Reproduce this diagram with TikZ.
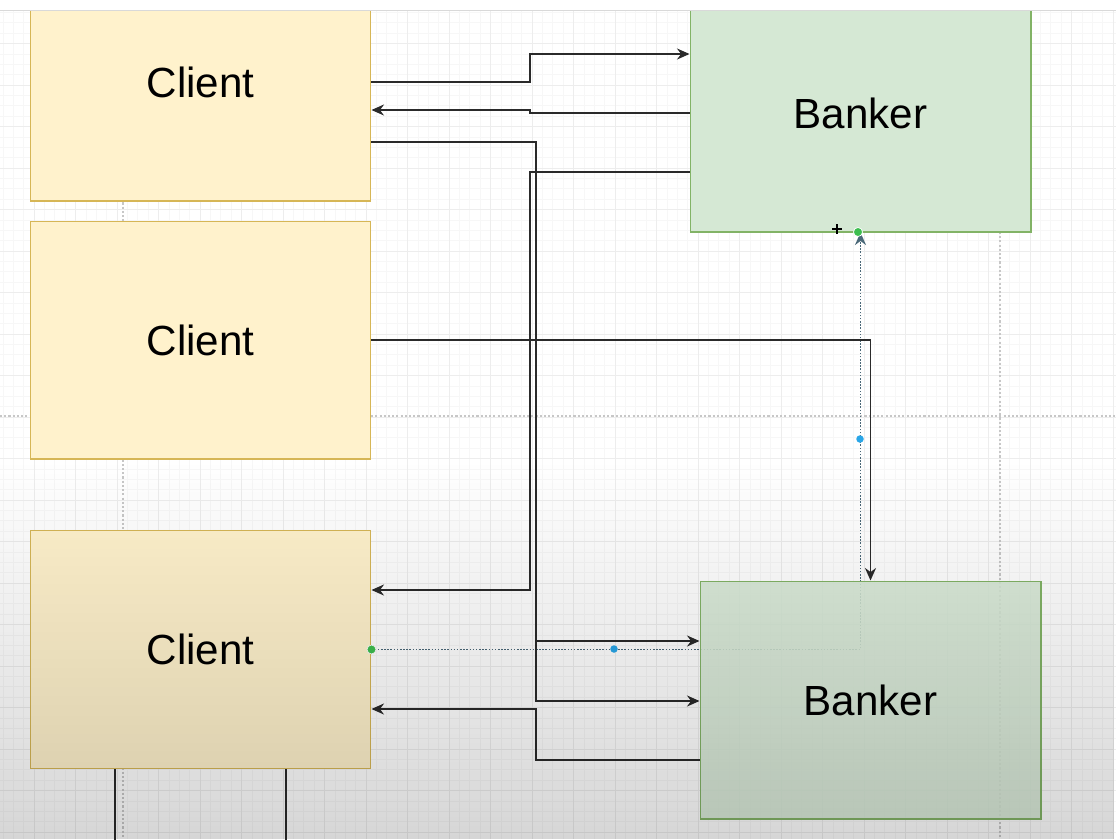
\documentclass[tikz,border=0pt]{standalone}
\usepackage{fontspec}
\setmainfont{Liberation Sans}
\usetikzlibrary{arrows.meta, positioning, fadings}
\definecolor{clientfill}{HTML}{FFF2CC}
\definecolor{clientline}{HTML}{D6B656}
\definecolor{bankfill}{HTML}{D5E8D4}
\definecolor{bankline}{HTML}{82B366}
\definecolor{wirecol}{HTML}{2A2A2A}
\definecolor{previewcol}{HTML}{4A6878}
\definecolor{handlegreen}{HTML}{3DBE4F}
\definecolor{handleblue}{HTML}{29A6E8}
\pgfdeclarelayer{bg}
\pgfsetlayers{bg,main}
\tikzfading[name=fadedown, top color=transparent!100, bottom color=transparent!0]

\begin{document}
\begin{tikzpicture}[
    x=0.02cm, y=-0.02cm, >={Stealth[length=2.5mm, width=2.2mm]},
    box/.style={rectangle, draw, line width=0.6pt, minimum width=6.82cm, minimum height=4.76cm, inner sep=0pt, font=\fontsize{24}{28}\selectfont},
    client/.style={box, fill=clientfill, draw=clientline},
    banker/.style={box, fill=bankfill, draw=bankline},
    wire/.style={->, draw=wirecol, line width=1pt},
    preview/.style={->, draw=previewcol, line width=1pt, dash pattern=on 0.9pt off 0.9pt},
    gridminor/.style={draw=black!3, line width=0.3pt},
    gridmajor/.style={draw=black!7, line width=0.4pt},
    pagebreak/.style={draw=black!22, line width=0.6pt, dash pattern=on 1.2pt off 1.2pt}
]
\useasboundingbox (0,0) rectangle (1116,839);
\clip (0,0) rectangle (1116,839);

\node[client] (client1) at (200.5,82) {Client};
\node[client] (client2) at (200.5,340) {Client};
\node[client] (client3) at (200.5,649.5) {Client};
\node[banker] (banker1) at (860.5,113) {Banker};
\node[banker, fill opacity=0.88, text opacity=1] (banker2) at (870.5,700) {Banker};

\coordinate (down1) at (115,850);
\coordinate (down2) at (286,850);

\begin{pgfonlayer}{bg}
\fill[white] (0,0) rectangle (1116,839);
\foreach \i in {-100,...,8}
    \draw[gridminor] ({1030+10.375*\i},0) -- ++(0,839);
\foreach \i in {-41,...,41}
    \draw[gridminor] (0,{417+10.375*\i}) -- ++(1116,0);
\foreach \i in {-25,...,2}
    \draw[gridmajor] ({1030+41.5*\i},0) -- ++(0,839);
\foreach \i in {-10,...,10}
    \draw[gridmajor] (0,{417+41.5*\i}) -- ++(1116,0);
\draw[pagebreak] (0,416) -- (1116,416);
\draw[pagebreak] (123,0) -- (123,839);
\draw[pagebreak] (1000,0) -- (1000,839);
\draw[preview] (client3.east) -| (banker1.south);
\end{pgfonlayer}

\draw[wire] (client1.east) -- (530,82) |- (banker1.west |- 0,54);
\draw[wire] (banker1.west) -- (530,113) -- (530,110) -- (client1.east |- 0,110);
\draw[wire] (client1.east |- 0,142) -| (536,641) -- (banker2.west |- 0,641);
\draw[wire] (client1.east |- 0,142) -| (536,701) -- (banker2.west |- 0,701);
\draw[wire] (banker1.west |- 0,172) -| (530,590) -- (client3.east |- 0,590);
\draw[wire] (banker2.west |- 0,760) -| (536,709) -- (client3.east |- 0,709);
\draw[wire] (client2.east) -| (banker2.north);
\draw[wire, -] (client3.south -| down1) -- (down1);
\draw[wire, -] (client3.south -| down2) -- (down2);

\filldraw[fill=handlegreen, draw=white, line width=0.4pt] (client3.east) circle (0.9mm);
\filldraw[fill=handlegreen, draw=white, line width=0.4pt] (858,232) circle (0.9mm);
\fill[handleblue] (614,649) circle (0.75mm);
\fill[handleblue] (860,439) circle (0.75mm);
\draw[line width=1pt] (832,229) -- (842,229) (837,224) -- (837,234);

\fill[black, opacity=0.16, path fading=fadedown] (0,460) rectangle (1116,839);
\fill[white] (0,0) rectangle (1116,10);
\draw[black!15, line width=0.5pt] (0,10.5) -- (1116,10.5);
\end{tikzpicture}
\end{document}
